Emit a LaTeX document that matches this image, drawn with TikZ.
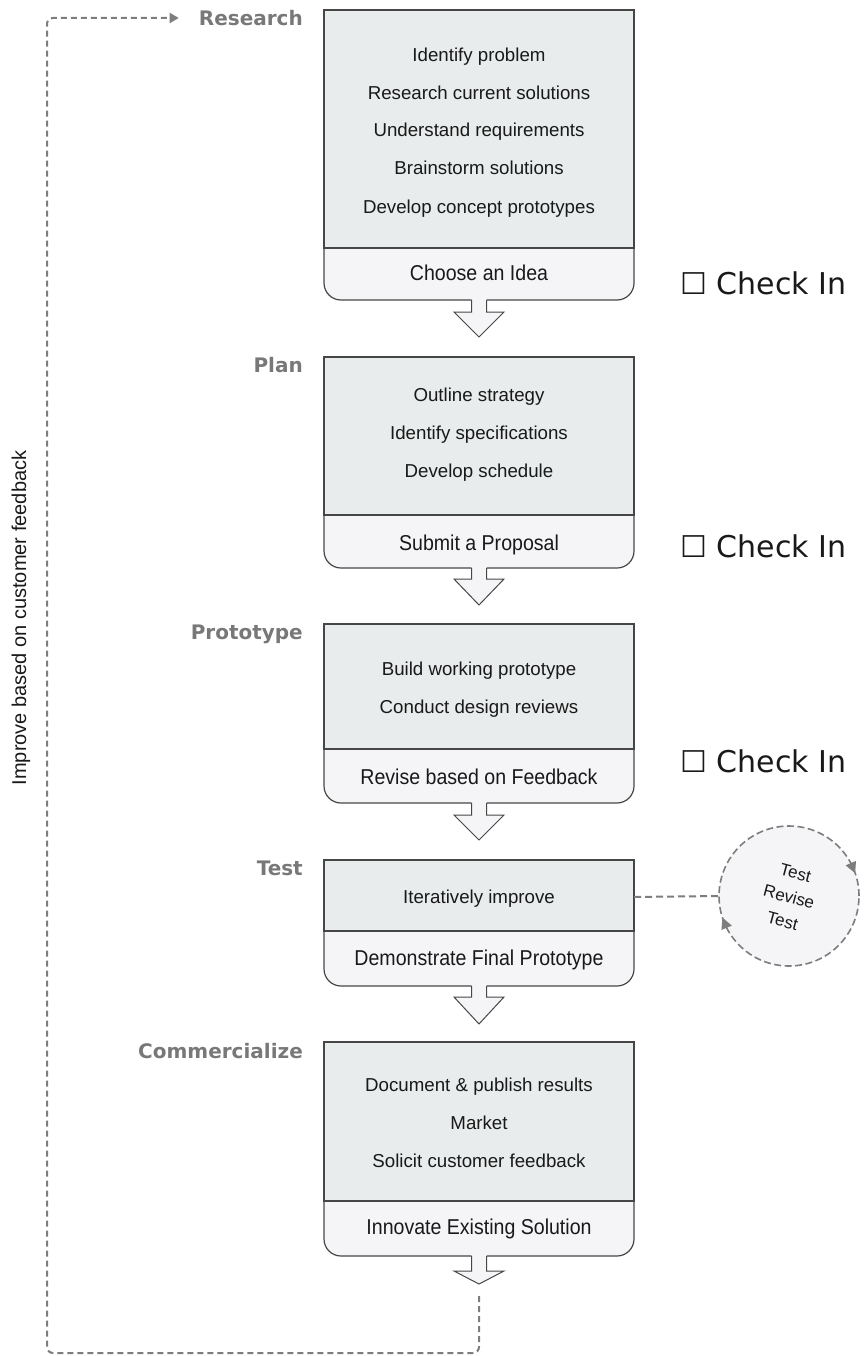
\documentclass[tikz,border=0pt]{standalone}
\usepackage{fontspec}
\setmainfont{Liberation Sans}
\newfontfamily\stagefont{DejaVu Sans}
\newfontfamily\narrowfont[FakeStretch=0.91]{Liberation Sans}
\usepackage{tikz}
\usetikzlibrary{arrows.meta}
\usetikzlibrary{positioning}
\usetikzlibrary{calc}
\definecolor{boxgrey}{RGB}{233,236,236}
\definecolor{boxlight}{RGB}{245,245,248}
\definecolor{labelgrey}{RGB}{120,120,120}
\definecolor{loopgrey}{RGB}{125,125,125}
\definecolor{edgegrey}{RGB}{70,70,70}
\definecolor{inkgrey}{RGB}{25,25,25}

\begin{document}
\begin{tikzpicture}[x=1pt,y=-1pt]
      \useasboundingbox (0,0) rectangle (863,1356);
      % stage boxes
      \foreach \ytop/\ymid/\ybot in {10/248/300, 357/515/568, 624/749/803, 860/931/986, 1042/1201/1256} {
        \filldraw[draw=edgegrey, fill=boxlight, line width=1.2pt, rounded corners=17pt] (324,\ymid-30) rectangle (634,\ybot);
        \filldraw[draw=edgegrey, fill=boxgrey, line width=1.2pt] (324,\ytop) rectangle (634,\ymid);
      }
      % block arrows between stages
      \foreach \ybot/\yneck/\ytip in {300/312/337, 568/579/605, 803/815/840, 986/997/1024, 1256/1271/1284} {
        \fill[boxlight] (471.5,\ybot-1) -- (486.5,\ybot-1) -- (486.5,\yneck) -- (504,\yneck) -- (479,\ytip) -- (454,\yneck) -- (471.5,\yneck) -- cycle;
        \draw[edgegrey, line width=1pt] (471.5,\ybot) -- (471.5,\yneck) -- (454,\yneck) -- (479,\ytip) -- (504,\yneck) -- (486.5,\yneck) -- (486.5,\ybot);
      }
      \begin{scope}[every node/.style={anchor=east, inner sep=0, text=labelgrey, font=\stagefont\bfseries\fontsize{20}{22}\selectfont, text height=14.6pt, text depth=0pt}]
        \node (research) at (303,18) {Research};
        \node (plan) at (303,365) {Plan};
        \node (prototype) at (303,632) {Prototype};
        \node (test) at (303,868) {Test};
        \node (commercialize) at (303,1051) {Commercialize};
      \end{scope}
      \begin{scope}[every node/.style={inner sep=0, text=inkgrey, font=\fontsize{18.7}{22}\selectfont, text height=13.4pt, text depth=0pt}]
        \node (r1) at (479,55) {Identify problem};
        \node (r2) at (479,93) {Research current solutions};
        \node (r3) at (479,130) {Understand requirements};
        \node (r4) at (479,168) {Brainstorm solutions};
        \node (r5) at (479,207) {Develop concept prototypes};
        \node (p1) at (479,395) {Outline strategy};
        \node (p2) at (479,433) {Identify specifications};
        \node (p3) at (479,471) {Develop schedule};
        \node (b1) at (479,669) {Build working prototype};
        \node (b2) at (479,707) {Conduct design reviews};
        \node (t1) at (479,897) {Iteratively improve};
        \node (c1) at (479,1085) {Document \& publish results};
        \node (c2) at (479,1123) {Market};
        \node (c3) at (479,1161) {Solicit customer feedback};
      \end{scope}
      \begin{scope}[every node/.style={inner sep=0, text=inkgrey, font=\narrowfont\fontsize{21.5}{24}\selectfont, text height=15.4pt, text depth=0pt}]
        \node (rgate) at (479,273) {Choose an Idea};
        \node (pgate) at (479,543) {Submit a Proposal};
        \node (bgate) at (479,777) {Revise based on Feedback};
        \node (tgate) at (479,958) {Demonstrate Final Prototype};
        \node (cgate) at (479,1227) {Innovate Existing Solution};
      \end{scope}
      \begin{scope}[every node/.style={anchor=west, inner sep=0, text=inkgrey, font=\stagefont\fontsize{30}{32}\selectfont, text height=21.9pt, text depth=0pt}]
        \node (check1) at (680,284) {☐ Check In};
        \node (check2) at (680,547) {☐ Check In};
        \node (check3) at (680,762) {☐ Check In};
      \end{scope}
      % test loop
      \node[circle, minimum size=140pt, draw=loopgrey, line width=1.6pt, dash pattern=on 7pt off 3.5pt, fill=boxlight] (loop) at (789,896) {};
      \node[rotate=-15, align=center, text=inkgrey, font=\fontsize{17}{25}\selectfont] (looptext) at (789,897) {Test\\Revise\\Test};
      \coordinate (testside) at (634,897);
      \begin{scope}[every path/.style={draw=loopgrey, line width=1.2pt, -{Triangle[length=11pt,width=11pt]}}]
        \path ($(loop.center)+(-28:70)$) -- ($(loop.center)+(-19:70)$);
        \path ($(loop.center)+(153:70)$) -- ($(loop.center)+(162:70)$);
      \end{scope}
      \draw[loopgrey, line width=2pt, dash pattern=on 7pt off 4pt] (testside) -- (loop.west);
      % feedback loop back to research
      \coordinate (loopstart) at (479,1296);
      \draw[loopgrey, line width=2pt, dash pattern=on 6pt off 4pt, rounded corners=6pt, shorten >=20pt, -{Triangle[length=9pt,width=10pt]}] (loopstart) -- (479,1353) -- (47,1353) -- (47,18) -- (research.west);
      \node[rotate=90, text=inkgrey, font=\fontsize{20}{22}\selectfont] (feedback) at (21,618) {Improve based on customer feedback};
\end{tikzpicture}
\end{document}
